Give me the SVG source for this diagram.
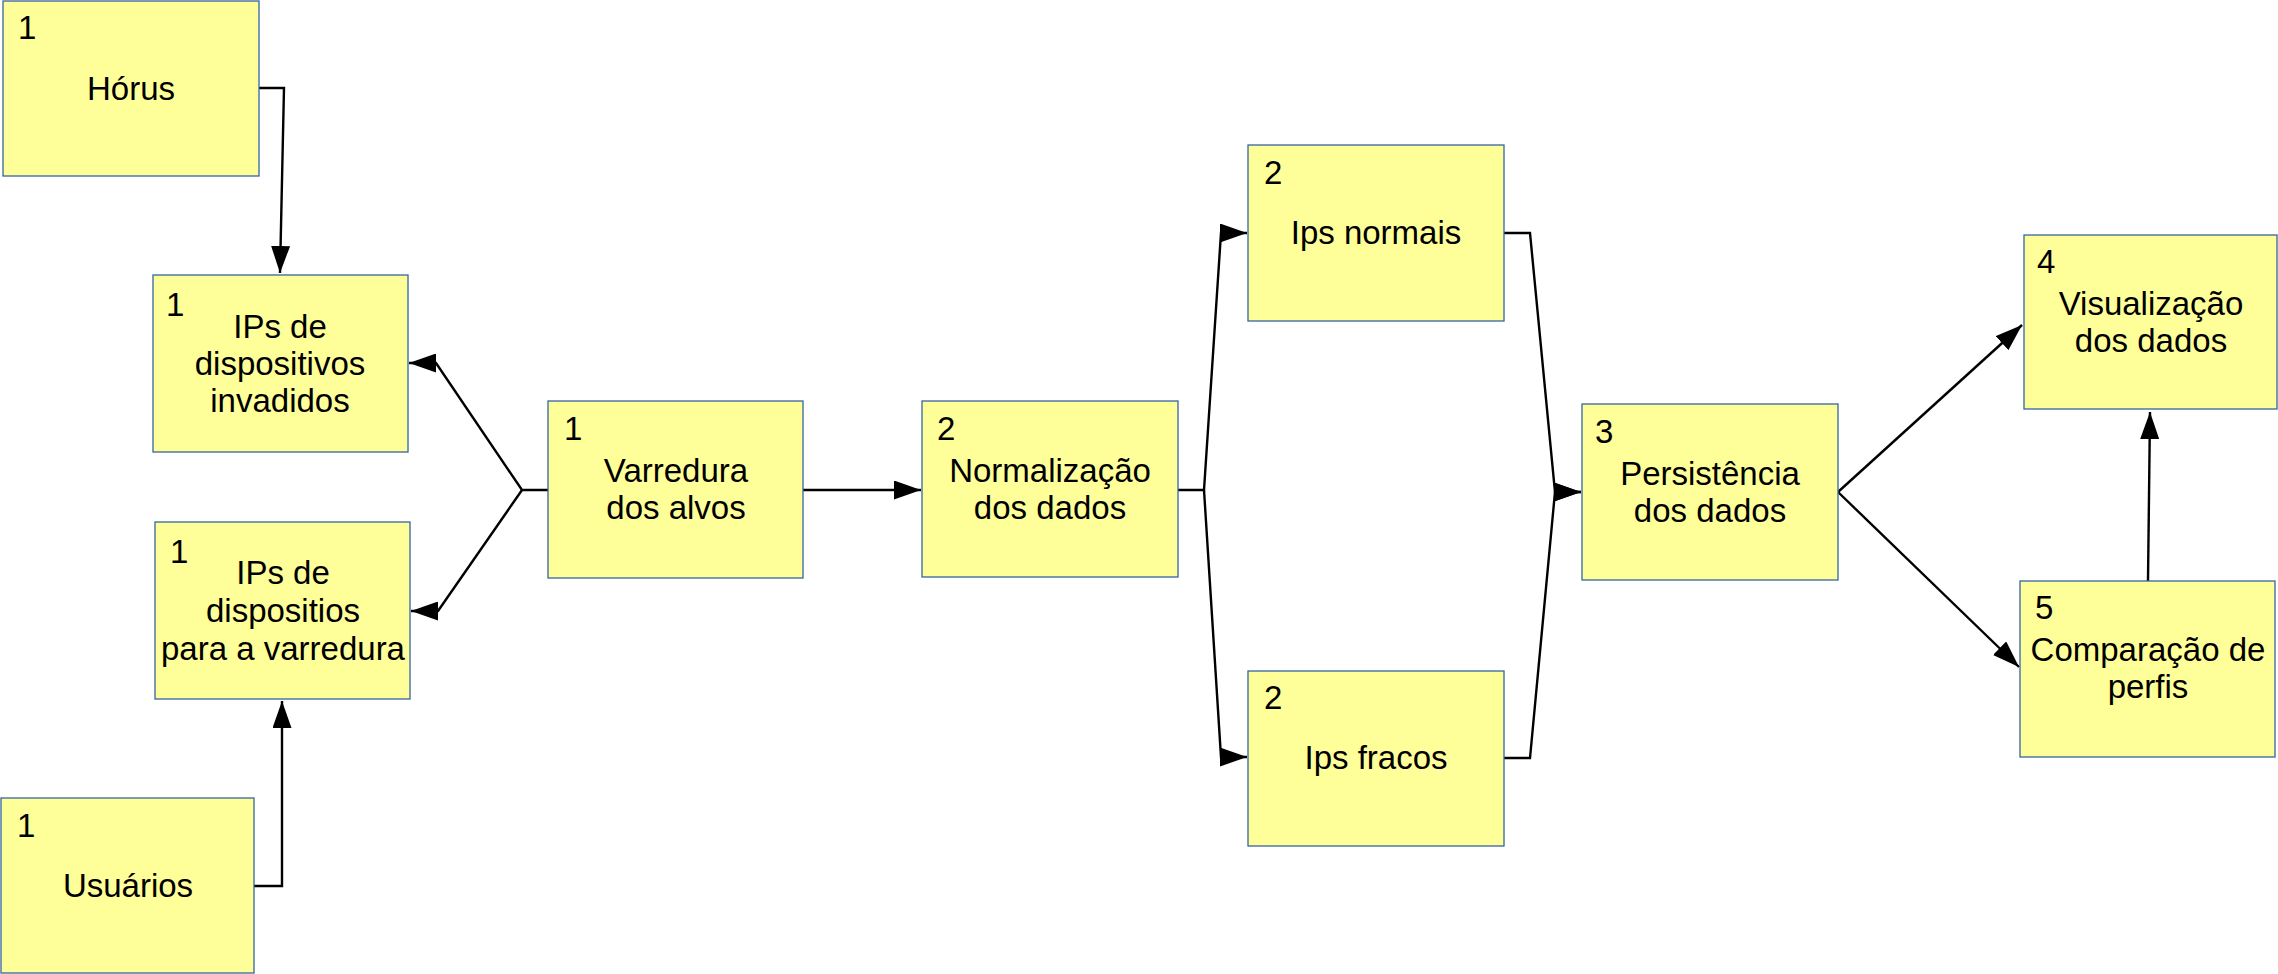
<svg xmlns="http://www.w3.org/2000/svg" width="2278" height="974" viewBox="0 0 2278 974">
<style>
.box{fill:#ffff99;stroke:#3465a4;stroke-width:1.3}
.num{font-family:"Liberation Sans",Arial,sans-serif;font-size:33px;fill:#000}
.lbl{font-family:"Liberation Sans",Arial,sans-serif;font-size:33px;fill:#000;text-anchor:middle}
.con{fill:none;stroke:#000;stroke-width:2.4;stroke-linejoin:miter}
.arr{marker-end:url(#ah)}
</style>
<defs>
<marker id="ah" markerUnits="userSpaceOnUse" markerWidth="28" markerHeight="19" viewBox="0 0 28 19" refX="27" refY="9.5" orient="auto">
<path d="M0,0 L27,9.5 L0,19 z" fill="#000"/>
</marker>
</defs>
<rect width="2278" height="974" fill="#fff"/>
<g id="connectors">
<polyline class="con arr" points="258,88 284,88 280,273"/>
<polyline class="con arr" points="254,886 282,886 282,701"/>
<polyline class="con arr" points="548,490 522,490 436,363 409,363"/>
<polyline class="con arr" points="522,490 438,611 411,611"/>
<polyline class="con arr" points="803,490 921,490"/>
<polyline class="con arr" points="1178,490 1204,490 1221,233 1247,233"/>
<polyline class="con arr" points="1204,490 1221,757 1247,757"/>
<polyline class="con arr" points="1504,233 1530,233 1555,492 1581,492"/>
<polyline class="con arr" points="1504,758 1530,758 1555,492 1581,492"/>
<polyline class="con arr" points="1838,492 2022,325"/>
<polyline class="con arr" points="1838,492 2019,667"/>
<polyline class="con arr" points="2148,581 2150,412"/>
</g>
<g id="horus">
<rect class="box" x="3" y="1" width="256" height="175"/>
<text class="num" x="18" y="39">1</text>
<text class="lbl" x="131" y="100">Hórus</text>
</g>
<g id="ips-invadidos">
<rect class="box" x="153" y="275" width="255" height="177"/>
<text class="num" x="166" y="316">1</text>
<text class="lbl" x="280" y="338">IPs de</text>
<text class="lbl" x="280" y="375">dispositivos</text>
<text class="lbl" x="280" y="412">invadidos</text>
</g>
<g id="ips-varredura">
<rect class="box" x="155" y="522" width="255" height="177"/>
<text class="num" x="170" y="563">1</text>
<text class="lbl" x="283" y="584">IPs de</text>
<text class="lbl" x="283" y="622">dispositios</text>
<text class="lbl" x="283" y="660">para a varredura</text>
</g>
<g id="usuarios">
<rect class="box" x="1" y="798" width="253" height="175"/>
<text class="num" x="17" y="837">1</text>
<text class="lbl" x="128" y="897">Usuários</text>
</g>
<g id="varredura">
<rect class="box" x="548" y="401" width="255" height="177"/>
<text class="num" x="564" y="440">1</text>
<text class="lbl" x="676" y="482">Varredura</text>
<text class="lbl" x="676" y="519">dos alvos</text>
</g>
<g id="normalizacao">
<rect class="box" x="922" y="401" width="256" height="176"/>
<text class="num" x="937" y="440">2</text>
<text class="lbl" x="1050" y="482">Normalização</text>
<text class="lbl" x="1050" y="519">dos dados</text>
</g>
<g id="ips-normais">
<rect class="box" x="1248" y="145" width="256" height="176"/>
<text class="num" x="1264" y="184">2</text>
<text class="lbl" x="1376" y="244">Ips normais</text>
</g>
<g id="ips-fracos">
<rect class="box" x="1248" y="671" width="256" height="175"/>
<text class="num" x="1264" y="709">2</text>
<text class="lbl" x="1376" y="769">Ips fracos</text>
</g>
<g id="persistencia">
<rect class="box" x="1582" y="404" width="256" height="176"/>
<text class="num" x="1595" y="443">3</text>
<text class="lbl" x="1710" y="485">Persistência</text>
<text class="lbl" x="1710" y="522">dos dados</text>
</g>
<g id="visualizacao">
<rect class="box" x="2024" y="235" width="253" height="174"/>
<text class="num" x="2037" y="273">4</text>
<text class="lbl" x="2151" y="315">Visualização</text>
<text class="lbl" x="2151" y="352">dos dados</text>
</g>
<g id="comparacao">
<rect class="box" x="2020" y="581" width="255" height="176"/>
<text class="num" x="2035" y="619">5</text>
<text class="lbl" x="2148" y="661">Comparação de</text>
<text class="lbl" x="2148" y="698">perfis</text>
</g>
</svg>
